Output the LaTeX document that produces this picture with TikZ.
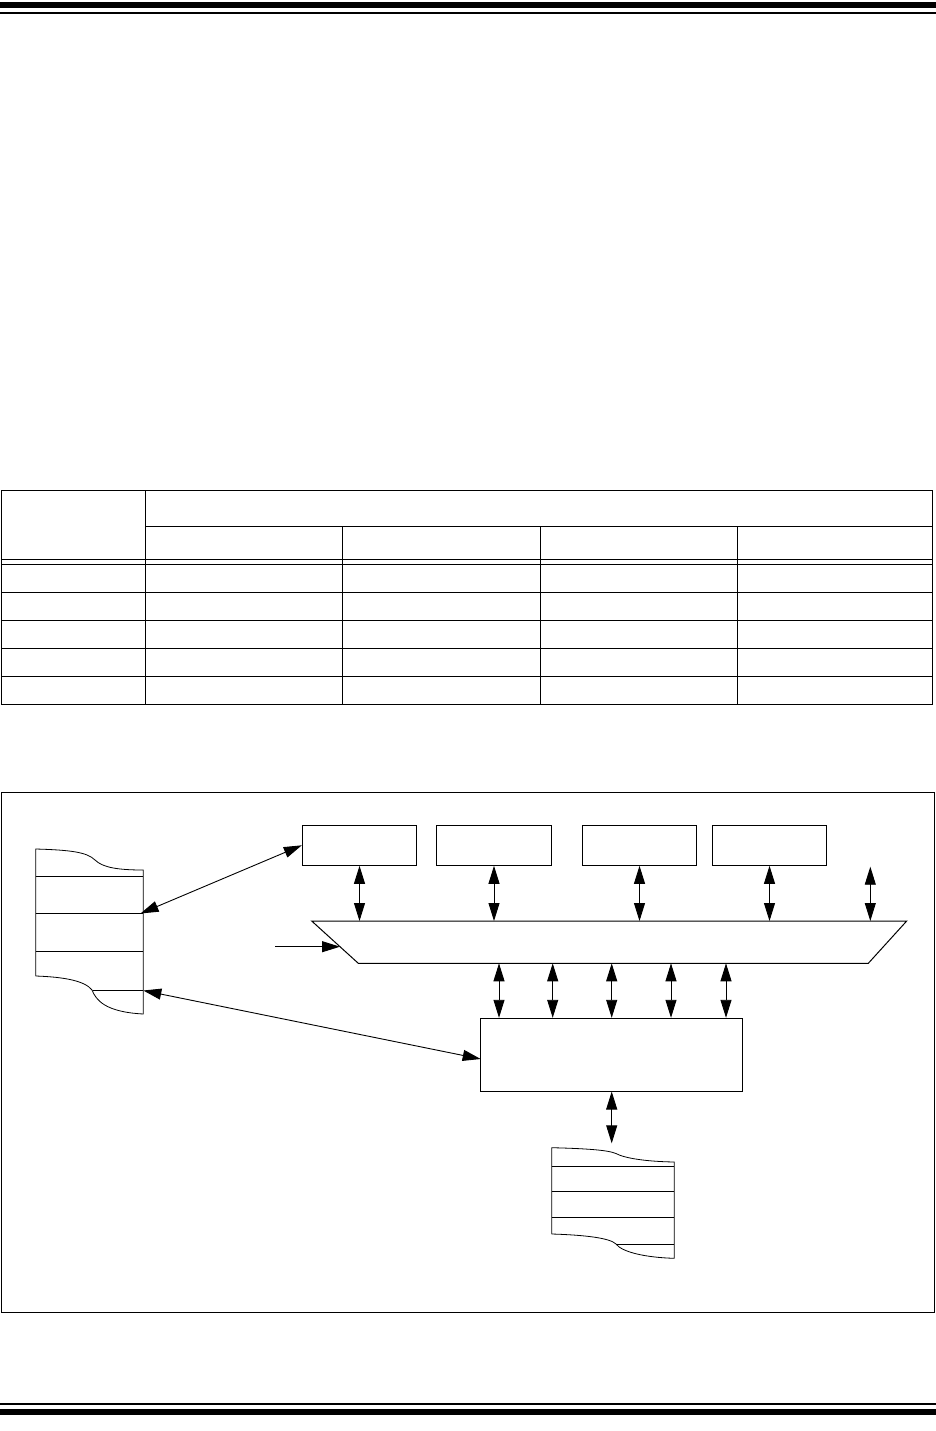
\documentclass[tikz,border=0pt]{standalone}
\usetikzlibrary{arrows.meta}
\begin{document}
\begin{tikzpicture}[x=1pt,y=-1pt,
  >={Triangle[length=18pt,width=11pt]},
  bi/.style={<->,line width=0.9pt},
  uni/.style={->,line width=0.9pt},
  box/.style={draw,line width=1pt,rectangle,inner sep=0pt},
  rule/.style={line width=1pt},
  wave/.style={line width=0.8pt}]
\useasboundingbox (0,0) rectangle (936,1431);
% page bars
\fill (0,2) rectangle (936,8);
\fill (0,12) rectangle (936,14);
\fill (0,1402.7) rectangle (936,1405);
\fill (0,1409) rectangle (936,1415);
% table
\draw[rule] (1,490) rectangle (932,704);
\draw[rule] (145,526) -- (932,526);
\draw[rule] (1,559.3) -- (932,559.3);
\draw[rule] (1,564) -- (932,564);
\foreach \yy in {592,620,648,676} \draw[rule] (1,\yy) -- (932,\yy);
\draw[rule] (145,490) -- (145,704);
\foreach \xx in {342.3,540,737.3} \draw[rule] (\xx,526) -- (\xx,704);
% figure frame
\draw[rule] (1,792) rectangle (934,1312);
% top boxes
\node[box,minimum width=114.4,minimum height=40] (b1) at (359.5,845.3) {};
\node[box,minimum width=115.4,minimum height=40] (b2) at (494,845.3) {};
\node[box,minimum width=114.4,minimum height=40] (b3) at (639.5,845.3) {};
\node[box,minimum width=114.4,minimum height=40] (b4) at (769.5,845.3) {};
% trapezoid
\draw[line width=1pt] (311.7,921) -- (906.7,921) -- (868.3,963.3) -- (358.3,963.3) -- cycle;
\coordinate (ttop) at (0,921);
\coordinate (tbot) at (0,963.3);
\coordinate (t5) at (870.3,866.7);
\coordinate (tin) at (340,946.7);
\coordinate (tinsrc) at (275,946.7);
% lower box
\node[box,minimum width=262,minimum height=72.7] (c) at (611.7,1054.65) {};
% vertical arrows top
\foreach \b in {b1,b2,b3,b4} \draw[bi] (\b.south) -- (\b.south |- ttop);
\draw[bi] (t5) -- (t5 |- ttop);
% vertical arrows lower
\foreach \xx in {499,552.7,611.7,671,726} {
  \coordinate (lx) at (\xx,0);
  \draw[bi] (lx |- tbot) -- (lx |- c.north);
}
% input arrow
\draw[uni] (tinsrc) -- (tin);
% left stack
\draw[wave] (35.7,976) -- (35.7,849) .. controls (70,850) and (87,852) .. (95,860)
  .. controls (103,868) and (120,870) .. (143.3,870) -- (143.3,1014)
  .. controls (105,1012) and (96,1000) .. (92,990)
  .. controls (85,981) and (65,977) .. (35.7,976);
\draw[wave] (35.7,876.3) -- (143.3,876.3);
\draw[wave] (35.7,913.3) -- (143.3,913.3);
\draw[wave] (35.7,951.3) -- (143.3,951.3);
\draw[wave] (92.7,990) -- (143.3,990);
\coordinate (lsmid) at (140.5,913.5);
\coordinate (lsbot) at (143.3,990.5);
% bottom stack
\draw[wave] (551.7,1234) -- (551.7,1147.7) .. controls (585,1148.5) and (608,1150) .. (616,1153.5)
  .. controls (624,1158) and (645,1161.5) .. (674.3,1162) -- (674.3,1258.3)
  .. controls (645,1257.5) and (622,1252) .. (616,1244)
  .. controls (610,1238) and (585,1235) .. (551.7,1234);
\draw[wave] (551.7,1166.3) -- (674.3,1166.3);
\draw[wave] (551.7,1191.3) -- (674.3,1191.3);
\draw[wave] (551.7,1217.3) -- (674.3,1217.3);
\draw[wave] (616.7,1244.3) -- (674.3,1244.3);
\coordinate (bstop) at (611.7,1143.3);
% connectors
\draw[bi] (lsmid) -- (b1.west);
\coordinate (cin) at (480.7,1059);
\draw[bi] (lsbot) -- (cin);
\draw[bi] (c.south) -- (bstop);
\end{tikzpicture}
\end{document}
